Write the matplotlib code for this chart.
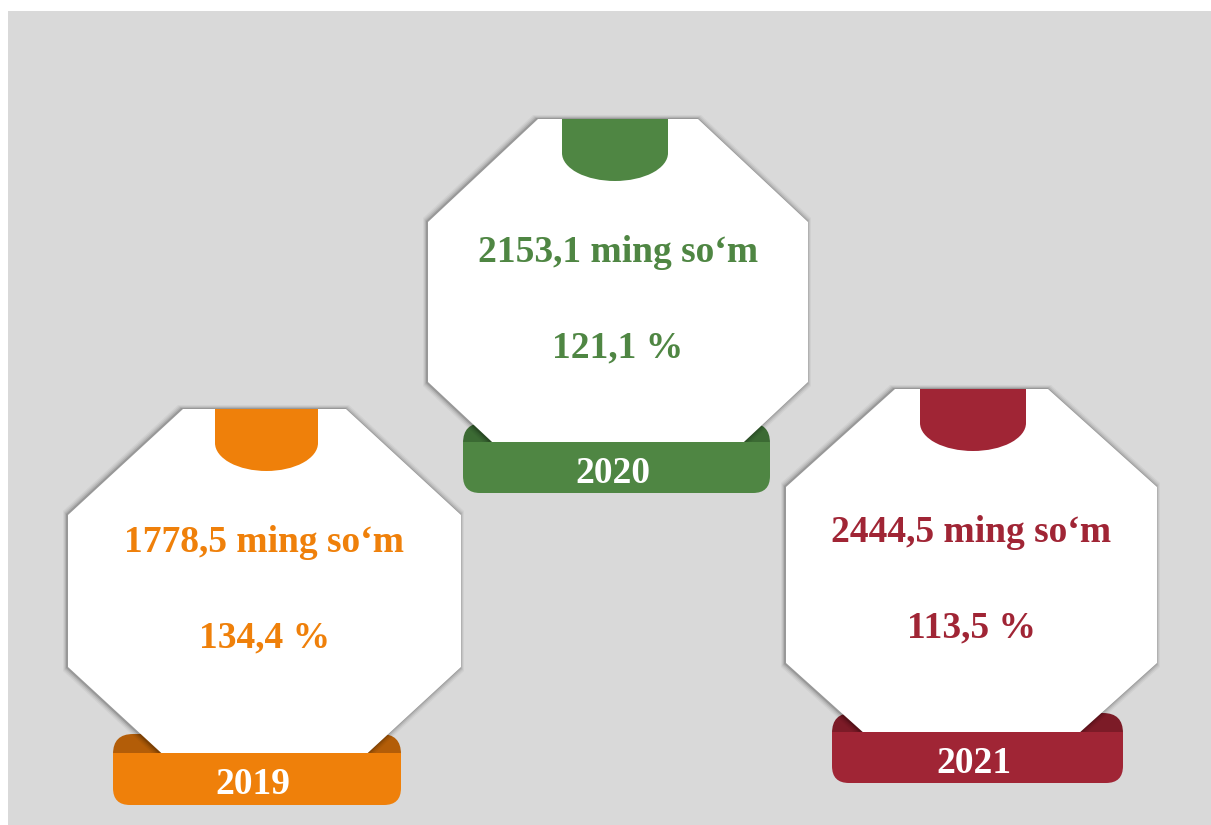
import matplotlib.pyplot as plt
from matplotlib.patches import Polygon, FancyBboxPatch, Rectangle, Ellipse, PathPatch
from matplotlib.path import Path

# data
years = ['2019', '2020', '2021']
amounts = ['1778,5', '2153,1', '2444,5']
percents = ['134,4', '121,1', '113,5']
colors = ['#ef800a', '#4f8643', '#a02535']
dark_colors = ['#b35d08', '#3b6a33', '#7c1b27']

# layout of each card (pixels): octagon left, top, width, height, cut x, cut y
octs = [(68, 409, 393, 364, 115, 106),
        (428, 119, 380, 366, 110, 103),
        (786, 389, 371, 372, 109, 98)]
# banner left, right, top, bottom
banners = [(113, 401, 753, 805),
           (463, 770, 442, 493),
           (832, 1123, 732, 783)]
# tab left, right, bottom
tabs = [(215, 318, 471), (562, 668, 181), (920, 1026, 451)]
# y of the two text lines inside each card
text_y = [(543, 638), (253, 348), (533, 628)]

fig = plt.figure(figsize=(12.11, 8.25), dpi=100)
fig.patch.set_facecolor('white')
ax = fig.add_axes([0, 0, 1, 1])
ax.set_xlim(0, 1211)
ax.set_ylim(825, 0)
ax.axis('off')

ax.add_patch(Rectangle((8, 11), 1211 - 8, 825 - 11, facecolor='#d9d9d9', edgecolor='none', zorder=0))


def octagon(l, t, w, h, cx, cy, grow=0):
    r = l + w
    b = t + h
    l, t, r, b = l - grow, t - grow, r + grow, b + grow
    return [(l + cx, t), (r - cx, t), (r, t + cy), (r, b - cy),
            (r - cx, b), (l + cx, b), (l, b - cy), (l, t + cy)]


def banner_path(l, r, t, b, rad):
    # square top, rounded bottom corners
    verts = [(l, t), (r, t), (r, b - rad), (r, b), (r - rad, b),
             (l + rad, b), (l, b), (l, b - rad), (l, t)]
    codes = [Path.MOVETO, Path.LINETO, Path.LINETO, Path.CURVE3, Path.CURVE3,
             Path.LINETO, Path.CURVE3, Path.CURVE3, Path.CLOSEPOLY]
    return Path(verts, codes)


for i in range(3):
    l, t, w, h, cx, cy = octs[i]
    bl, br, bt, bb = banners[i]
    tl, tr, tb = tabs[i]
    col = colors[i]

    # dark ear behind the card
    ax.add_patch(FancyBboxPatch((bl, bt - 19), br - bl, 40,
                                boxstyle='round,pad=0,rounding_size=20',
                                facecolor=dark_colors[i], edgecolor='none', zorder=1))

    # soft shadow
    for g, a in [(4, 0.04), (3, 0.06), (2, 0.09), (1, 0.14)]:
        ax.add_patch(Polygon(octagon(l - 1, t, w, h, cx, cy, grow=g), closed=True,
                             facecolor='black', alpha=a, edgecolor='none', zorder=2))
    ax.add_patch(Polygon(octagon(l, t, w, h, cx, cy), closed=True,
                         facecolor='white', edgecolor='none', zorder=3))

    # tab on top
    ry = 28
    ax.add_patch(Rectangle((tl, t), tr - tl, tb - t - ry, facecolor=col, edgecolor='none', zorder=4))
    ax.add_patch(Ellipse(((tl + tr) / 2, tb - ry), tr - tl, 2 * ry, facecolor=col, edgecolor='none', zorder=4))

    # front banner
    ax.add_patch(PathPatch(banner_path(bl, br, bt, bb, 17), facecolor=col, edgecolor='none', zorder=5))

    xc = l + w / 2
    y1, y2 = text_y[i]
    ax.text(xc, y1, amounts[i] + ' ming so\u2018m', color=col, fontsize=27,
            fontweight='bold', family='Liberation Serif', ha='center', va='center', zorder=6)
    ax.text(xc, y2, percents[i] + ' %', color=col, fontsize=27,
            fontweight='bold', family='Liberation Serif', ha='center', va='center', zorder=6)
    ax.text((bl + br) / 2 - 4, (bt + bb) / 2 + 6, years[i], color='white', fontsize=27,
            fontweight='bold', family='Liberation Serif', ha='center', va='center', zorder=6)

plt.savefig('out.png', dpi=100)
